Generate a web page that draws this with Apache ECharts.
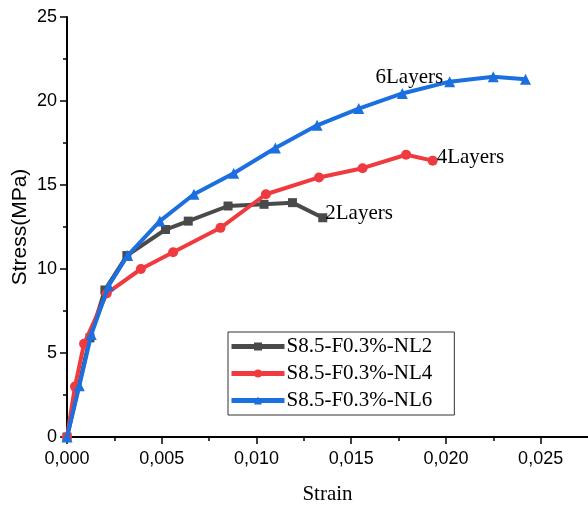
<!DOCTYPE html>
<html>
<head>
<meta charset="utf-8">
<script src="https://cdn.jsdelivr.net/npm/echarts@6/dist/echarts.min.js"></script>
<style>
  html, body { margin: 0; padding: 0; background: #fff; }
  #chart { width: 588px; height: 505px; }
</style>
</head>
<body>
<div id="chart"></div>
<script>
// series names
const seriesNames = ['S8.5-F0.3%-NL2', 'S8.5-F0.3%-NL4', 'S8.5-F0.3%-NL6']
const curveLabels = ['2Layers', '4Layers', '6Layers']

// NL2 (black)
const strainNL2 = [0, 0.00121, 0.0020, 0.00316, 0.0052, 0.0064, 0.0085, 0.0104, 0.0119, 0.0135]
const stressNL2 = [0, 5.9, 8.75, 10.8, 12.35, 12.85, 13.75, 13.85, 13.95, 13.05]

// NL4 (red)
const strainNL4 = [0, 0.00042, 0.0009, 0.0021, 0.0039, 0.0056, 0.0081, 0.0105, 0.0133, 0.0156, 0.0179, 0.0193]
const stressNL4 = [0, 3.0, 5.55, 8.55, 10.0, 11.0, 12.45, 14.45, 15.45, 16.0, 16.8, 16.45]

// NL6 (blue)
const strainNL6 = [0, 0.00065, 0.00128, 0.0022, 0.0032, 0.0049, 0.0067, 0.0088, 0.011, 0.0132, 0.0154, 0.0177, 0.0202, 0.0225, 0.0242]
const stressNL6 = [0, 3.05, 6.1, 9.0, 10.8, 12.85, 14.45, 15.7, 17.2, 18.55, 19.55, 20.45, 21.15, 21.45, 21.3]

const xTicks = [0, 0.005, 0.010, 0.015, 0.020, 0.025]

const colors = ['#4a4a4a', '#ef3b3f', '#1b6fde']
const symbols = ['rect', 'circle', 'triangle']
const symbolSizes = [9, 10, 11]

const chart = echarts.init(document.getElementById('chart'))

const serif = '"Liberation Serif", "DejaVu Serif", serif'
const sans = '"Liberation Sans", Arial, sans-serif'

// where each curve's label sits: point index, position, offset
const labelAt = [
  { idx: strainNL2.length - 1, position: 'right', offset: [-7, -4] },
  { idx: strainNL4.length - 1, position: 'right', offset: [-6, -3] },
  { idx: 11, position: 'top', offset: [7, 5] }
]

function buildData(xs, ys, k) {
  return xs.map((x, i) => {
    const item = { value: [x, ys[i]] }
    if (i === labelAt[k].idx) {
      item.label = {
        show: true,
        formatter: curveLabels[k],
        position: labelAt[k].position,
        offset: labelAt[k].offset,
        fontFamily: serif,
        fontSize: 21,
        color: '#000'
      }
    }
    return item
  })
}

const allData = [
  buildData(strainNL2, stressNL2, 0),
  buildData(strainNL4, stressNL4, 1),
  buildData(strainNL6, stressNL6, 2)
]

const option = {
  animation: false,
  grid: { left: 67, right: 0, top: 17, bottom: 68, outerBoundsMode: 'none', containLabel: false },
  legend: {
    orient: 'vertical',
    left: 228,
    top: 332,
    padding: [4, 22, 4, 1],
    itemGap: 6,
    itemWidth: 53,
    itemHeight: 10,
    borderColor: '#333',
    borderWidth: 1,
    lineStyle: { width: 5 },
    textStyle: { fontFamily: serif, fontSize: 21, color: '#000', padding: [0, 0, 0, -3] },
    data: seriesNames
  },
  xAxis: {
    type: 'value',
    min: 0,
    max: 0.0275,
    interval: 0.005,
    name: 'Strain',
    nameLocation: 'middle',
    nameGap: 47,
    nameMoveOverlap: false,
    nameTextStyle: { fontFamily: serif, fontSize: 21, color: '#000' },
    splitLine: { show: false },
    axisLine: { lineStyle: { color: '#000', width: 2 } },
    axisTick: { length: 7, lineStyle: { color: '#000', width: 1.5 }, customValues: xTicks },
    minorTick: { show: true, splitNumber: 2, length: 4, lineStyle: { color: '#000', width: 1.5 } },
    axisLabel: {
      customValues: xTicks,
      margin: 13,
      fontFamily: sans,
      fontSize: 18,
      color: '#000',
      formatter: v => v.toFixed(3).replace('.', ',')
    }
  },
  yAxis: {
    type: 'value',
    min: 0,
    max: 25,
    interval: 5,
    name: 'Stress(MPa)',
    nameLocation: 'middle',
    nameGap: 36,
    nameMoveOverlap: false,
    nameTextStyle: { fontFamily: sans, fontSize: 21, color: '#000' },
    splitLine: { show: false },
    axisLine: { show: true, lineStyle: { color: '#000', width: 2 } },
    axisTick: { show: true, length: 7, lineStyle: { color: '#000', width: 1.5 } },
    minorTick: { show: true, splitNumber: 2, length: 4, lineStyle: { color: '#000', width: 1.5 } },
    axisLabel: { margin: 10, fontFamily: sans, fontSize: 18, color: '#000' }
  },
  series: seriesNames.map((name, k) => ({
    name: name,
    type: 'line',
    data: allData[k],
    symbol: symbols[k],
    symbolSize: symbolSizes[k],
    color: colors[k],
    lineStyle: { width: 4, color: colors[k] },
    itemStyle: { color: colors[k] },
    z: 2 + k
  }))
}

chart.setOption(option)
</script>
</body>
</html>
